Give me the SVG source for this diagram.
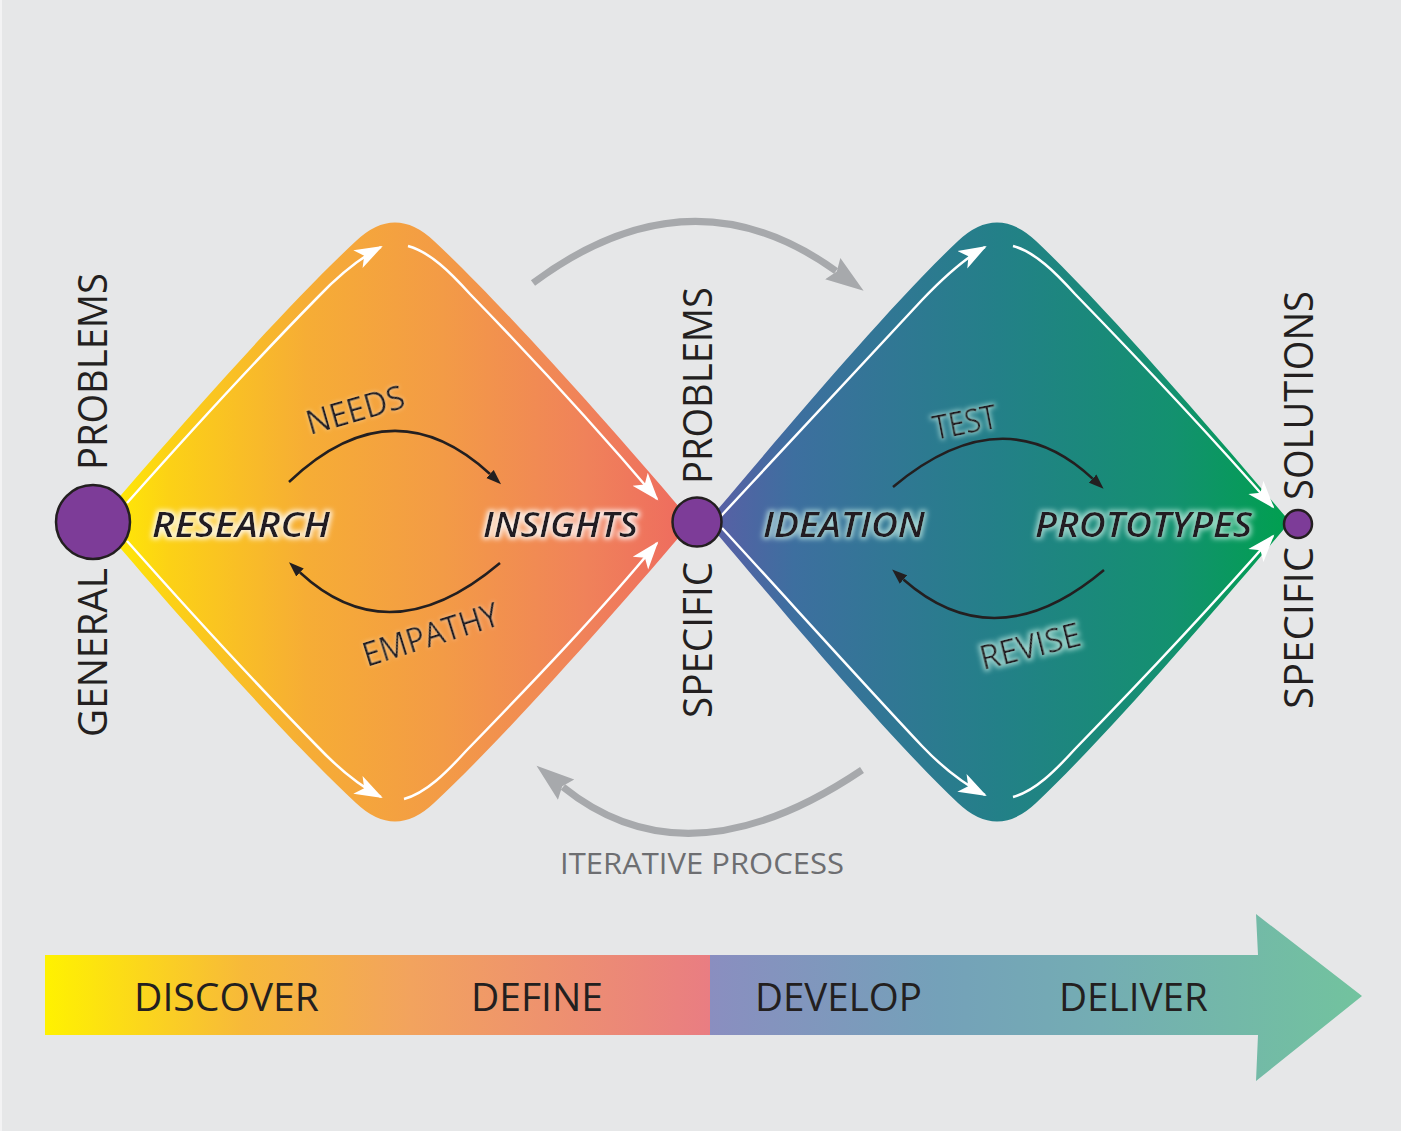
<svg xmlns="http://www.w3.org/2000/svg" width="1401" height="1131" viewBox="0 0 1401 1131">
  <defs>
    <style>
      .lbl { font-family: "Open Sans", "Liberation Sans", sans-serif; fill: #231f20; }
      .vert { font-size: 40px; }
      .main { font-size: 34px; font-weight: 600; font-style: italic; }
      .arcl { font-size: 32px; }
      .phase { font-size: 39px; }
      .iter { font-family: "Open Sans", "Liberation Sans", sans-serif; font-size: 29px; fill: #6d6e71; }
      .white-line { fill: none; stroke: #ffffff; stroke-width: 2.5; marker-end: url(#wArrow); }
      .black-arc { fill: none; stroke: #231f20; stroke-width: 2.5; marker-end: url(#bArrow); }
      .gray-arc { fill: none; stroke: #a7a9ac; stroke-width: 7; marker-end: url(#gArrow); }
      .node { fill: #7d3c98; stroke: #231f20; stroke-width: 2.5; }
    </style>
    <linearGradient id="gradLeft" gradientUnits="userSpaceOnUse" x1="98" y1="0" x2="692" y2="0">
      <stop offset="0" stop-color="#fff000"/>
      <stop offset="0.12" stop-color="#fcd116"/>
      <stop offset="0.35" stop-color="#f6ad35"/>
      <stop offset="0.58" stop-color="#f39b46"/>
      <stop offset="0.82" stop-color="#f0825a"/>
      <stop offset="1" stop-color="#ee6a5f"/>
    </linearGradient>
    <linearGradient id="gradRight" gradientUnits="userSpaceOnUse" x1="707" y1="0" x2="1290" y2="0">
      <stop offset="0" stop-color="#5b5ea6"/>
      <stop offset="0.15" stop-color="#3d6f9f"/>
      <stop offset="0.5" stop-color="#238088"/>
      <stop offset="0.8" stop-color="#13916f"/>
      <stop offset="1" stop-color="#00a04f"/>
    </linearGradient>
    <linearGradient id="bandLeft" gradientUnits="userSpaceOnUse" x1="45" y1="0" x2="710" y2="0">
      <stop offset="0" stop-color="#fff200"/>
      <stop offset="0.3" stop-color="#f7b93a"/>
      <stop offset="0.55" stop-color="#f2a35e"/>
      <stop offset="1" stop-color="#e97d82"/>
    </linearGradient>
    <linearGradient id="bandRight" gradientUnits="userSpaceOnUse" x1="710" y1="0" x2="1362" y2="0">
      <stop offset="0" stop-color="#8a8ec0"/>
      <stop offset="0.35" stop-color="#74a1b9"/>
      <stop offset="0.6" stop-color="#74adb3"/>
      <stop offset="1" stop-color="#72c39e"/>
    </linearGradient>
    <filter id="glowW" x="-15%" y="-40%" width="130%" height="180%">
      <feMorphology in="SourceAlpha" operator="dilate" radius="1.5" result="d"/>
      <feGaussianBlur in="d" stdDeviation="2.5" result="b"/>
      <feFlood flood-color="#ffffff" flood-opacity="0.85"/>
      <feComposite in2="b" operator="in" result="g"/>
      <feMerge><feMergeNode in="g"/><feMergeNode in="SourceGraphic"/></feMerge>
    </filter>
    <filter id="glowT" x="-15%" y="-40%" width="130%" height="180%">
      <feMorphology in="SourceAlpha" operator="dilate" radius="1.5" result="d"/>
      <feGaussianBlur in="d" stdDeviation="2.5" result="b"/>
      <feFlood flood-color="#cdf3ea" flood-opacity="0.7"/>
      <feComposite in2="b" operator="in" result="g"/>
      <feMerge><feMergeNode in="g"/><feMergeNode in="SourceGraphic"/></feMerge>
    </filter>
    <filter id="glowSoft" x="-15%" y="-40%" width="130%" height="180%">
      <feGaussianBlur in="SourceAlpha" stdDeviation="2" result="b"/>
      <feFlood flood-color="#ffffff" flood-opacity="0.45"/>
      <feComposite in2="b" operator="in" result="g"/>
      <feMerge><feMergeNode in="g"/><feMergeNode in="SourceGraphic"/></feMerge>
    </filter>
    <marker id="wArrow" markerUnits="userSpaceOnUse" viewBox="0 -11 30 22" markerWidth="30" markerHeight="22" refX="26" refY="0" orient="auto">
      <path d="M0,-10 L28,0 L0,10 L7,0 Z" fill="#ffffff"/>
    </marker>
    <marker id="bArrow" markerUnits="userSpaceOnUse" viewBox="0 -6 16 12" markerWidth="16" markerHeight="12" refX="0" refY="0" orient="auto">
      <path d="M0,-5.5 L15,0 L0,5.5 Z" fill="#231f20"/>
    </marker>
    <marker id="gArrow" markerUnits="userSpaceOnUse" viewBox="0 -14 42 28" markerWidth="42" markerHeight="28" refX="4" refY="0" orient="auto">
      <path d="M0,-13 L38,0 L0,13 L5,0 Z" fill="#a7a9ac"/>
    </marker>
  </defs>

  <rect x="0" y="0" width="1401" height="1131" fill="#e6e7e8"/>
  <rect x="0" y="0" width="2" height="1131" fill="#f3f3f4"/>

  <!-- Diamonds -->
  <g id="diamond-discover-define">
    <path d="M98,522 C172,435 285,307 356,241 Q395,204 434,241 C505,307 618,435 692,522 C618,609 505,737 434,803 Q395,840 356,803 C285,737 172,609 98,522 Z" fill="url(#gradLeft)"/>
  </g>
  <g id="diamond-develop-deliver">
    <path d="M707,522 C781,435 888,307 958,241 Q997,204 1036,241 C1106,307 1216,435 1290,522 C1216,609 1106,737 1036,803 Q997,840 958,803 C888,737 781,609 707,522 Z" fill="url(#gradRight)"/>
  </g>

  <!-- Connectors -->
  <g id="connectors">
    <!-- white inner flow lines, left diamond -->
    <path class="white-line" d="M127,503 C190,432 260,356 318,297 C338,276 358,259 381,247"/>
    <path class="white-line" d="M408,246 C430,252 450,272 470,294 C540,366 600,432 657,499"/>
    <path class="white-line" d="M127,541 C190,612 260,688 318,747 C338,768 358,785 381,797"/>
    <path class="white-line" d="M404,799 C426,793 446,773 466,751 C536,679 600,612 657,543"/>
    <!-- white inner flow lines, right diamond -->
    <path class="white-line" d="M721,516 C790,442 860,366 922,300 C942,279 962,260 985,247"/>
    <path class="white-line" d="M1013,246 C1035,252 1055,272 1075,294 C1145,366 1210,435 1273,507"/>
    <path class="white-line" d="M722,528 C790,602 860,680 922,746 C942,767 962,783 985,795"/>
    <path class="white-line" d="M1013,797 C1035,791 1055,771 1075,749 C1145,677 1210,608 1273,536"/>
    <!-- inner cycle arcs -->
    <path class="black-arc" d="M289,482 Q392,384 490,474"/>
    <path class="black-arc" d="M500,563 Q390,656 300,572.5"/>
    <path class="black-arc" d="M893,487 Q1003,395 1092.6,478.6"/>
    <path class="black-arc" d="M1104,570 Q996,661 903.4,579.5"/>
    <!-- iterative process arcs -->
    <path class="gray-arc" d="M533,283 Q690,166 836,271"/>
    <path class="gray-arc" d="M862,770 Q687.5,887.5 563,787"/>
  </g>

  <!-- Arc labels -->
  <g id="arc-labels">
    <text class="lbl arcl" filter="url(#glowSoft)" transform="translate(310,435) rotate(-16)" textLength="101" lengthAdjust="spacingAndGlyphs">NEEDS</text>
    <text class="lbl arcl" filter="url(#glowSoft)" transform="translate(367,667) rotate(-17.5)" textLength="141" lengthAdjust="spacingAndGlyphs">EMPATHY</text>
    <text class="lbl arcl" filter="url(#glowT)" transform="translate(935,440) rotate(-11)" textLength="65" lengthAdjust="spacingAndGlyphs">TEST</text>
    <text class="lbl arcl" filter="url(#glowT)" transform="translate(983,670) rotate(-14)" textLength="103" lengthAdjust="spacingAndGlyphs">REVISE</text>
  </g>

  <!-- Stage labels -->
  <g id="node-research"><text class="lbl main" filter="url(#glowW)" x="152" y="537" textLength="178" lengthAdjust="spacingAndGlyphs">RESEARCH</text></g>
  <g id="node-insights"><text class="lbl main" filter="url(#glowW)" x="483" y="537" textLength="155" lengthAdjust="spacingAndGlyphs">INSIGHTS</text></g>
  <g id="node-ideation"><text class="lbl main" filter="url(#glowT)" x="763" y="537" textLength="162" lengthAdjust="spacingAndGlyphs">IDEATION</text></g>
  <g id="node-prototypes"><text class="lbl main" filter="url(#glowT)" x="1035" y="537" textLength="217" lengthAdjust="spacingAndGlyphs">PROTOTYPES</text></g>

  <!-- Nodes with vertical labels -->
  <g id="node-general-problems">
    <circle class="node" cx="93" cy="522" r="37"/>
    <text class="lbl vert" transform="translate(107,737) rotate(-90)" textLength="169" lengthAdjust="spacingAndGlyphs">GENERAL</text>
    <text class="lbl vert" transform="translate(107,470) rotate(-90)" textLength="197" lengthAdjust="spacingAndGlyphs">PROBLEMS</text>
  </g>
  <g id="node-specific-problems">
    <circle class="node" cx="697" cy="522" r="24.5"/>
    <text class="lbl vert" transform="translate(712,718) rotate(-90)" textLength="156" lengthAdjust="spacingAndGlyphs">SPECIFIC</text>
    <text class="lbl vert" transform="translate(712,484) rotate(-90)" textLength="197" lengthAdjust="spacingAndGlyphs">PROBLEMS</text>
  </g>
  <g id="node-specific-solutions">
    <circle class="node" cx="1298" cy="524" r="14"/>
    <text class="lbl vert" transform="translate(1313,709) rotate(-90)" textLength="162" lengthAdjust="spacingAndGlyphs">SPECIFIC</text>
    <text class="lbl vert" transform="translate(1313,500) rotate(-90)" textLength="209" lengthAdjust="spacingAndGlyphs">SOLUTIONS</text>
  </g>

  <g id="iterative-label">
    <text class="iter" x="560" y="874" textLength="284" lengthAdjust="spacingAndGlyphs">ITERATIVE PROCESS</text>
  </g>

  <!-- Phase band -->
  <g id="phase-band">
    <rect x="45" y="955" width="666" height="80" fill="url(#bandLeft)"/>
    <path d="M710,955 L1258,955 L1256,914 L1362,996 L1256,1081 L1258,1035 L710,1035 Z" fill="url(#bandRight)"/>
    <text class="lbl phase" x="134" y="1011" textLength="185" lengthAdjust="spacingAndGlyphs">DISCOVER</text>
    <text class="lbl phase" x="471" y="1011" textLength="132" lengthAdjust="spacingAndGlyphs">DEFINE</text>
    <text class="lbl phase" x="755" y="1011" textLength="167" lengthAdjust="spacingAndGlyphs">DEVELOP</text>
    <text class="lbl phase" x="1059" y="1011" textLength="149" lengthAdjust="spacingAndGlyphs">DELIVER</text>
  </g>
</svg>
